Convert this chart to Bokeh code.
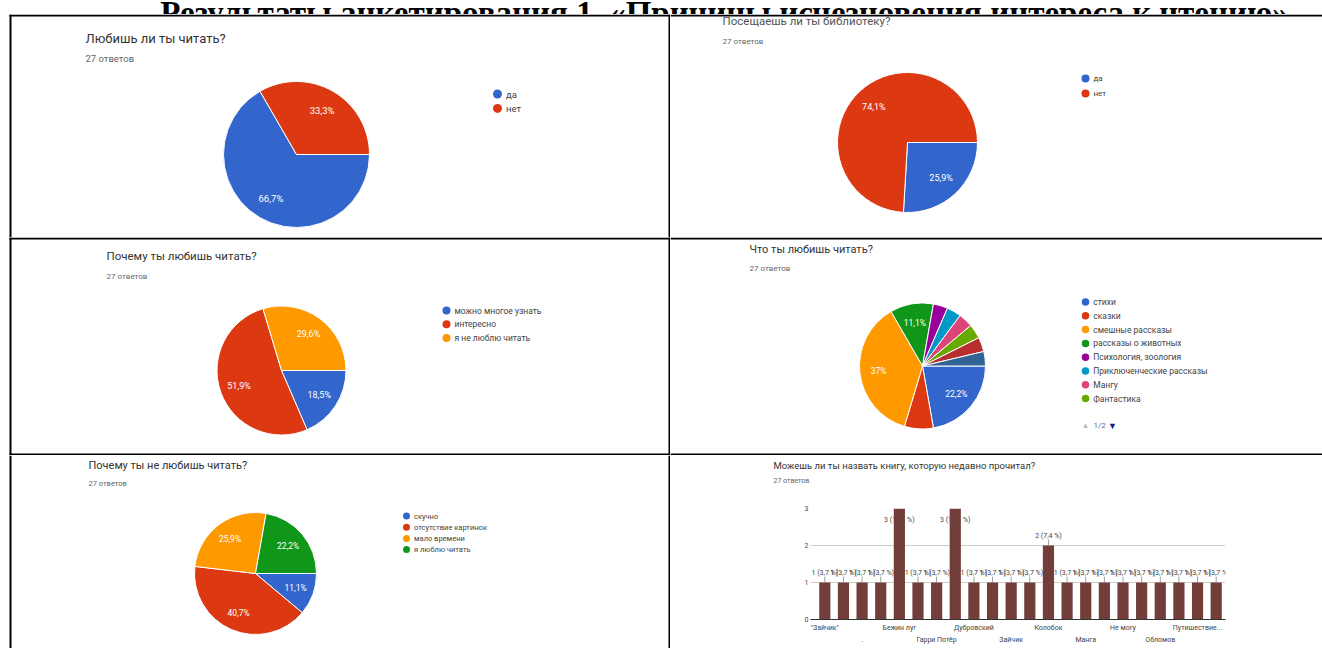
import numpy as np
from bokeh.plotting import figure
from bokeh.models import Range1d, Span, ColumnDataSource, FixedTicker, LinearAxis
from bokeh.layouts import column, row
from bokeh.embed import file_html
from bokeh.resources import INLINE
from bokeh.core.properties import value

# ---------------- data ----------------
PALETTE = ["#3366cc", "#dc3912", "#ff9900", "#109618", "#990099",
           "#0099c6", "#dd4477", "#66aa00", "#b82e2e", "#316395"]

main_title = "Результаты анкетирования 1. «Причины исчезновения интереса к чтению»"
answers_text = "27 ответов"

q1_title = "Любишь ли ты читать?"
q1_labels = ["да", "нет"]
q1_counts = [18, 9]

q2_title = "Посещаешь ли ты библиотеку?"
q2_labels = ["да", "нет"]
q2_counts = [7, 20]

q3_title = "Почему ты любишь читать?"
q3_labels = ["можно многое узнать", "интересно", "я не люблю читать"]
q3_counts = [5, 14, 8]

q4_title = "Что ты любишь читать?"
q4_labels = ["стихи", "сказки", "смешные рассказы", "рассказы о животных",
             "Психология, зоология", "Приключенческие рассказы", "Мангу",
             "Фантастика", "", ""]
q4_counts = [6, 2, 10, 3, 1, 1, 1, 1, 1, 1]
q4_pager = "1/2"

q5_title = "Почему ты не любишь читать?"
q5_labels = ["скучно", "отсутствие картинок", "мало времени", "я люблю читать"]
q5_counts = [3, 11, 7, 6]

q6_title = "Можешь ли ты назвать книгу, которую недавно прочитал?"
q6_books = ['"Зайчик"', "", ".", "", "Бежин луг", "", "Гарри Потёр", "",
            "Дубровский", "", "Зайчик", "", "Колобок", "", "Манга", "",
            "Не могу", "", "Обломов", "", "Путишествие...", ""]
q6_counts = [1, 1, 1, 1, 3, 1, 1, 3, 1, 1, 1, 1, 2, 1, 1, 1, 1, 1, 1, 1, 1, 1]
q6_yticks = [0, 1, 2, 3]
BAR_COLOR = "#723e3a"

FONT = "Roboto"
TITLE_C = "#333333"
SUB_C = "#666666"
LEG_C = "#444444"


def fmt_pct(f, space=""):
    s = f"{f * 100:.1f}".replace(".", ",")
    if s.endswith(",0"):
        s = s[:-2]
    return s + space + "%"


def panel(x0, x1, y0, y1):
    p = figure(width=x1 - x0, height=y1 - y0,
               x_range=Range1d(x0, x1), y_range=Range1d(-y1, -y0),
               toolbar_location=None, output_backend="svg",
               x_axis_location=None, y_axis_location=None,
               min_border=0, outline_line_color=None)
    p.grid.visible = False
    p.background_fill_color = "white"
    return p


def hline(p, y, x0, x1, w=2):
    p.segment(x0=[x0], y0=[-y], x1=[x1], y1=[-y], line_color="black", line_width=w)


def vline(p, x, w=2):
    p.add_layout(Span(location=x, dimension="height", line_color="black", line_width=w))


def txt(p, x, y, s, size, color, align="left", font=FONT, style="normal", baseline="middle"):
    p.text(x=[x], y=[-y], text=[s], text_font=value(font), text_font_size=f"{size}px",
           text_color=color, text_align=align, text_baseline=baseline, text_font_style=style)


def pie(p, counts, cx, cy, r, fs):
    c = np.array(counts, dtype=float)
    frac = c / c.sum()
    cum = np.concatenate([[0.0], np.cumsum(frac)])
    start = -2 * np.pi * cum[1:]
    end = -2 * np.pi * cum[:-1]
    mid = -np.pi * (cum[:-1] + cum[1:])
    src = ColumnDataSource(dict(start=start, end=end, color=PALETTE[:len(c)],
                                lx=cx + 0.7 * r * np.cos(mid),
                                ly=-cy + 0.7 * r * np.sin(mid),
                                lab=[fmt_pct(f) if f >= 0.1 else "" for f in frac]))
    p.wedge(x=cx, y=-cy, radius=r, start_angle="start", end_angle="end",
            fill_color="color", line_color="white", line_width=1, source=src)
    p.text(x="lx", y="ly", text="lab", source=src, text_color="white",
           text_font=value(FONT), text_font_size=f"{fs}px",
           text_align="center", text_baseline="middle")


def legend(p, labels, dot_x, y0, dy, fs, size):
    items = [(l, PALETTE[i]) for i, l in enumerate(labels) if l]
    ys = [-(y0 + i * dy) for i in range(len(items))]
    p.scatter(x=[dot_x] * len(items), y=ys, size=size,
              color=[c for _, c in items], line_color=None)
    p.text(x=[dot_x + size * 0.5 + 4] * len(items), y=ys, text=[l for l, _ in items],
           text_font=value(FONT), text_font_size=f"{fs}px", text_color=LEG_C,
           text_align="left", text_baseline="middle")


W, H = 1322, 648
XL = 10           # left border
XM = 670          # column divider
Y0, Y1, Y2 = 15, 237, 455  # row dividers
YB = 502          # top of the bar-chart figure

# ---------------- title strip ----------------
pt = panel(0, W, 0, 14)
txt(pt, 724, 12.5, main_title, 33, "black", align="center",
    font="Liberation Serif", style="bold", baseline="alphabetic")

# ---------------- row 1 ----------------
p1 = panel(0, XM, 14, Y1)
hline(p1, Y0, XL - 1, XM); vline(p1, XL); vline(p1, XM - 1)
txt(p1, 85, 38, q1_title, 13, TITLE_C)
txt(p1, 85, 58, answers_text, 9.5, SUB_C)
pie(p1, q1_counts, 296, 154, 73, 9.5)
legend(p1, q1_labels, 497, 93.5, 14.4, 9.5, 9)

p2 = panel(XM, W, 14, Y1)
hline(p2, Y0, XM, W)
txt(p2, 722, 20, q2_title, 11.5, "#555555")
txt(p2, 722, 41, answers_text, 8, SUB_C)
pie(p2, q2_counts, 907, 142, 70, 9)
legend(p2, q2_labels, 1085, 78, 15, 8, 8)

# ---------------- row 2 ----------------
p3 = panel(0, XM, Y1, Y2)
hline(p3, Y1 + 1, XL - 1, XM); hline(p3, Y2 - 1, XL - 1, XM); vline(p3, XL); vline(p3, XM - 1)
txt(p3, 106, 255, q3_title, 11.5, TITLE_C)
txt(p3, 106, 275.5, answers_text, 8, SUB_C)
pie(p3, q3_counts, 281, 370, 64.5, 9)
legend(p3, q3_labels, 446, 310, 13.8, 8.5, 8)

p4 = panel(XM, W, Y1, Y2)
hline(p4, Y1 + 1, XM, W); hline(p4, Y2 - 1, XM, W)
txt(p4, 749, 249, q4_title, 11, TITLE_C)
txt(p4, 749, 267.5, answers_text, 8, SUB_C)
pie(p4, q4_counts, 922, 365.5, 63, 8.5)
legend(p4, q4_labels[:8], 1085, 301.5, 13.8, 8.5, 7.5)
txt(p4, 1085, 425, "▲", 8, "#bdbdbd", align="center")
txt(p4, 1093, 425, q4_pager, 8, "#5a6aa8")
txt(p4, 1112, 425, "▼", 9, "#1a1a8c", align="center")

# ---------------- row 3 ----------------
p5 = panel(0, XM, Y2, H)
vline(p5, XL); vline(p5, XM - 1)
txt(p5, 88, 464.5, q5_title, 11, TITLE_C)
txt(p5, 88, 483, answers_text, 7.5, SUB_C)
pie(p5, q5_counts, 255, 573, 61, 8.5)
legend(p5, q5_labels, 406, 515.5, 11.2, 7.5, 7)

# bar panel heading (own strip above the bar chart)
pbt = panel(XM, W, Y2, YB)
txt(pbt, 773, 464.5, q6_title, 9.5, TITLE_C)
txt(pbt, 773, 480.5, answers_text, 7, SUB_C)

n = len(q6_counts)
total = sum(q6_counts)
cmax = max(q6_counts)
SL, SR, FT, FB = 815, 1225, 508, 619   # bar slots span SL..SR, value 0..max spans FB..FT
FL = 810                                # frame left (a little room for the first label)
ppx = (SR - SL) / n
pb = figure(width=W - XM, height=H - YB,
            x_range=Range1d(-0.5 - (SL - FL) / ppx, n - 0.5), y_range=Range1d(0, cmax),
            toolbar_location=None, output_backend="svg",
            min_border_left=FL - XM, min_border_right=W - SR,
            min_border_top=FT - YB, min_border_bottom=H - FB,
            outline_line_color=None)
idx = list(range(n))
bsrc = ColumnDataSource(dict(
    x=idx, top=q6_counts,
    ly=[c + 0.27 if c < cmax else c - 0.3 for c in q6_counts],
    lab=[f"{c} ({fmt_pct(c / total, ' ')})" for c in q6_counts]))
lead = ColumnDataSource(dict(
    x=[i for i, c in zip(idx, q6_counts) if c < cmax],
    y0=[c for c in q6_counts if c < cmax],
    y1=[c + 0.16 for c in q6_counts if c < cmax]))
pb.text(x="x", y="ly", text="lab", source=bsrc, text_font=value(FONT), text_font_size="7px",
        text_color="#444444", text_align="center", text_baseline="middle")
pb.segment(x0="x", y0="y0", x1="x", y1="y1", source=lead, line_color="#9e9e9e", line_width=1)
pb.vbar(x="x", top="top", width=0.6, source=bsrc, fill_color=BAR_COLOR, line_color=None)

pb.xgrid.visible = False
pb.ygrid.ticker = FixedTicker(ticks=q6_yticks)
pb.ygrid.grid_line_color = "#cccccc"
pb.yaxis.ticker = FixedTicker(ticks=q6_yticks)
pb.yaxis.axis_line_color = None
pb.yaxis.major_tick_line_color = None
pb.yaxis.minor_tick_line_color = None
pb.yaxis.major_tick_out = 0
pb.yaxis.minor_tick_out = 0
pb.yaxis.major_label_text_font_size = "7px"
pb.yaxis.major_label_text_color = "#444444"
pb.yaxis.major_label_text_font = FONT
pb.yaxis.major_label_standoff = 2

row1_idx = [i for i, b in enumerate(q6_books) if b and (i // 2) % 2 == 0]
row2_idx = [i for i, b in enumerate(q6_books) if b and (i // 2) % 2 == 1]
ax1 = pb.xaxis[0]
ax1.ticker = FixedTicker(ticks=row1_idx)
ax1.major_label_overrides = {i: q6_books[i] for i in row1_idx}
ax2 = LinearAxis(ticker=FixedTicker(ticks=row2_idx),
                 major_label_overrides={i: q6_books[i] for i in row2_idx})
pb.add_layout(ax2, "below")
for ax, st in ((ax1, 4), (ax2, 1)):
    ax.major_tick_line_color = None
    ax.minor_tick_line_color = None
    ax.major_tick_out = 0
    ax.minor_tick_out = 0
    ax.major_tick_in = 0
    ax.major_label_text_font_size = "7px"
    ax.major_label_text_color = "#444444"
    ax.major_label_text_font = FONT
    ax.major_label_standoff = st
ax1.axis_line_color = "#333333"
ax2.axis_line_color = None

layout = column(pt,
                row(p1, p2),
                row(p3, p4),
                row(p5, column(column(pbt), column(pb))))

open("out.html", "w").write(file_html(layout, INLINE))
